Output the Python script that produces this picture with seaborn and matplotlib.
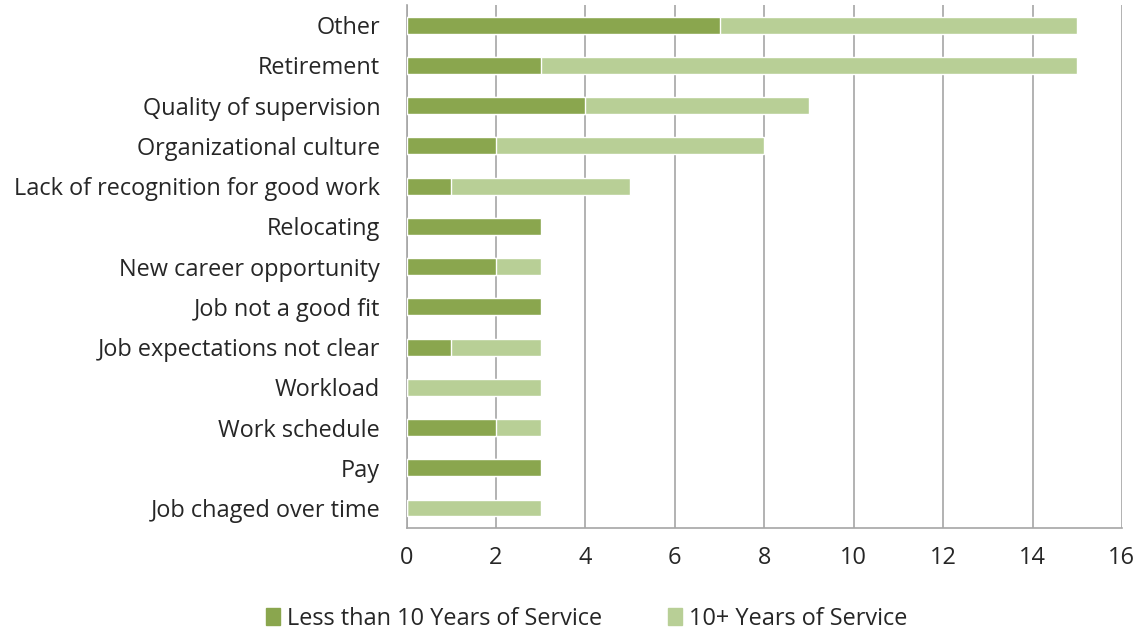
import matplotlib.pyplot as plt
import matplotlib.patches as mpatches
import numpy as np
import pandas as pd
import seaborn as sns

reasons = ["Other", "Retirement", "Quality of supervision", "Organizational culture",
           "Lack of recognition for good work", "Relocating", "New career opportunity",
           "Job not a good fit", "Job expectations not clear", "Workload",
           "Work schedule", "Pay", "Job chaged over time"]
less_than_10 = [7, 3, 4, 2, 1, 3, 2, 3, 1, 0, 2, 3, 0]
ten_plus = [8, 12, 5, 6, 4, 0, 1, 0, 2, 3, 1, 0, 3]

dark_green = "#8aa64e"
light_green = "#b8cf96"
grid_grey = "#a6a6a6"

df = pd.DataFrame({"reason": reasons, "lt10": less_than_10, "ten": ten_plus})
df["total"] = df["lt10"] + df["ten"]

sns.set_style("white")
plt.rcParams["font.family"] = ["Open Sans", "DejaVu Sans"]
fs = 16.9

fig = plt.figure(figsize=(11.39, 6.34), dpi=100)
ax = fig.add_axes([0.357, 0.167, 0.628, 0.825])

# stacked: total in light green, first segment drawn over it in dark green
sns.barplot(data=df, y="reason", x="total", color=light_green, orient="h",
            width=0.42, saturation=1, ax=ax, zorder=3)
sns.barplot(data=df, y="reason", x="lt10", color=dark_green, orient="h",
            width=0.42, saturation=1, ax=ax, zorder=3)

ax.set_xlim(0, 16)
ax.set_ylim(len(reasons) - 0.5, -0.5)
ax.set_xticks(np.arange(0, 17, 2))
ax.set_xlabel("")
ax.set_ylabel("")
ax.grid(axis="x", color=grid_grey, linewidth=1.2, zorder=0)
ax.set_axisbelow(True)

ax.set_yticks(np.arange(-0.5, len(reasons), 1), minor=True)
ax.tick_params(axis="y", which="major", length=0, pad=19, labelsize=fs)
ax.tick_params(axis="y", which="minor", length=6, color=grid_grey, direction="out", width=1.2)
ax.tick_params(axis="x", which="major", length=7, color=grid_grey, direction="out", width=1.2,
               labelsize=fs, pad=6)

for side in ["top", "right"]:
    ax.spines[side].set_visible(False)
for side in ["left", "bottom"]:
    ax.spines[side].set_color(grid_grey)
    ax.spines[side].set_linewidth(1.2)

handles = [mpatches.Patch(color=dark_green, label="Less than 10 Years of Service"),
           mpatches.Patch(color=light_green, label="10+ Years of Service")]
fig.legend(handles=handles, loc="center", bbox_to_anchor=(0.515, 0.024), ncol=2,
           frameon=False, fontsize=fs, handlelength=0.6, handleheight=0.7,
           handletextpad=0.3, columnspacing=2.8)

fig.savefig("out.png", dpi=100)
